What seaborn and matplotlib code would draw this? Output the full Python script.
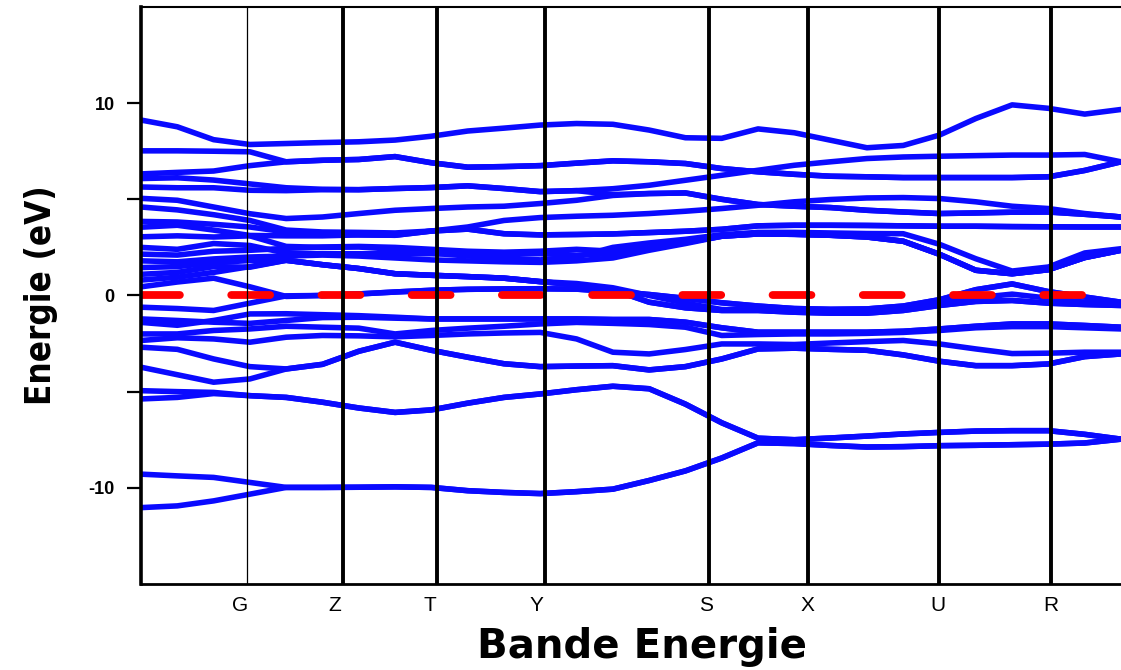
import matplotlib
matplotlib.use("Agg")
import matplotlib.pyplot as plt
import numpy as np
import pandas as pd
import seaborn as sns

# k-path sampling (28 points along the path)
k_points = [0, 1, 2, 3, 4, 5, 6, 7, 8, 9, 10, 11, 12, 13,
            14, 15, 16, 17, 18, 19, 20, 21, 22, 23, 24, 25, 26, 27]

# high symmetry points: label, position of the vertical line, position of the label
sym_labels = ["G", "Z", "T", "Y", "S", "X", "U", "R"]
sym_lines = [2.92, 5.56, 8.15, 11.13, 15.65, 18.37, 21.98, 25.07]
sym_label_pos = [2.73, 5.34, 7.96, 10.90, 15.56, 18.35, 21.96, 25.07]

# conduction side
band_a = [9.12, 8.77, 8.10, 7.85, 7.90, 7.95, 7.99, 8.08, 8.28, 8.55, 8.70, 8.86, 8.94, 8.90,
          8.60, 8.20, 8.17, 8.66, 8.46, 8.07, 7.68, 7.80, 8.34, 9.20, 9.91, 9.73, 9.43, 9.67]
band_b = [7.52, 7.52, 7.50, 7.47, 6.95, 7.03, 7.07, 7.22, 6.90, 6.67, 6.70, 6.75, 6.88, 7.00,
          6.95, 6.86, 6.60, 6.43, 6.30, 6.20, 6.17, 6.13, 6.13, 6.13, 6.13, 6.17, 6.50, 6.95]
band_c = [6.32, 6.40, 6.47, 6.75, 6.95, 7.03, 7.07, 7.22, 6.90, 6.67, 6.70, 6.75, 6.88, 7.00,
          6.95, 6.86, 6.60, 6.43, 6.30, 6.20, 6.17, 6.13, 6.13, 6.13, 6.13, 6.17, 6.50, 6.95]
band_d = [6.08, 6.12, 6.00, 5.80, 5.60, 5.52, 5.50, 5.56, 5.61, 5.70, 5.56, 5.40, 5.45, 5.55,
          5.73, 5.99, 6.25, 6.51, 6.77, 6.95, 7.12, 7.20, 7.24, 7.27, 7.30, 7.30, 7.33, 6.95]
band_e1 = [5.64, 5.60, 5.60, 5.47, 5.45, 5.50, 5.50, 5.56, 5.61, 5.70, 5.56, 5.40, 5.45, 5.25,
           5.30, 5.33, 5.00, 4.73, 4.64, 4.57, 4.43, 4.34, 4.26, 4.29, 4.33, 4.34, 4.22, 4.08]
band_e2 = [5.05, 4.95, 4.60, 4.25, 4.00, 4.08, 4.26, 4.43, 4.52, 4.60, 4.64, 4.78, 4.95, 5.20,
           5.30, 5.33, 5.00, 4.73, 4.64, 4.57, 4.43, 4.34, 4.26, 4.29, 4.33, 4.34, 4.22, 4.08]
band_e3 = [3.85, 3.82, 3.70, 3.56, 3.30, 3.20, 3.15, 3.13, 3.35, 3.56, 3.90, 4.05, 4.12, 4.17,
           4.26, 4.38, 4.52, 4.69, 4.87, 4.99, 5.07, 5.09, 5.04, 4.87, 4.64, 4.52, 4.26, 4.08]
band_e4 = [4.60, 4.45, 4.20, 3.90, 3.40, 3.30, 3.28, 3.25, 3.35, 3.45, 3.21, 3.15, 3.17, 3.20,
           3.27, 3.34, 3.44, 3.62, 3.65, 3.65, 3.64, 3.62, 3.60, 3.60, 3.58, 3.57, 3.56, 3.56]
band_h1 = [3.55, 3.65, 3.40, 3.12, 3.10, 3.10, 3.15, 3.13, 3.35, 3.45, 3.21, 3.15, 3.17, 3.20,
           3.27, 3.34, 3.44, 3.62, 3.65, 3.65, 3.64, 3.62, 3.60, 3.60, 3.58, 3.57, 3.56, 3.56]
band_f1 = [3.05, 3.10, 3.04, 3.10, 2.55, 2.50, 2.52, 2.40, 2.20, 2.05, 1.95, 1.85, 2.00, 2.50,
           2.73, 2.92, 3.16, 3.28, 3.28, 3.25, 3.22, 3.21, 2.66, 1.91, 1.27, 1.48, 2.21, 2.43]
band_f2 = [2.50, 2.40, 2.70, 2.60, 2.20, 2.17, 2.17, 2.17, 2.17, 2.17, 2.17, 2.17, 2.10, 2.17,
           2.47, 2.76, 3.08, 3.20, 3.18, 3.13, 3.04, 2.82, 2.14, 1.31, 1.13, 1.34, 1.97, 2.35]
band_g1 = [2.15, 2.10, 2.30, 2.35, 2.45, 2.52, 2.55, 2.50, 2.40, 2.30, 2.25, 2.30, 2.40, 2.30,
           2.47, 2.76, 3.08, 3.20, 3.18, 3.13, 3.04, 2.82, 2.14, 1.31, 1.13, 1.34, 1.97, 2.35]
band_g2 = [1.80, 1.75, 1.90, 2.00, 2.05, 2.10, 2.05, 1.95, 1.85, 1.80, 1.75, 1.72, 1.80, 1.95,
           2.35, 2.70, 3.08, 3.20, 3.18, 3.13, 3.04, 2.82, 2.14, 1.31, 1.13, 1.34, 1.97, 2.35]
band_g3 = [1.45, 1.50, 1.70, 1.82, 1.83, 1.60, 1.40, 1.13, 1.05, 0.98, 0.90, 0.72, 0.55, 0.30,
           -0.35, -0.64, -0.78, -0.78, -0.87, -0.92, -0.92, -0.78, -0.52, -0.31, -0.26, -0.40, -0.47, -0.52]
band_g4 = [1.10, 1.20, 1.50, 1.47, 1.83, 1.60, 1.40, 1.13, 1.05, 0.98, 0.90, 0.72, 0.55, 0.30,
           -0.35, -0.64, -0.78, -0.78, -0.87, -0.92, -0.92, -0.78, -0.52, -0.31, -0.26, -0.40, -0.47, -0.52]
band_v10 = [0.80, 0.95, 1.20, 1.50, 1.83, 1.60, 1.40, 1.13, 1.05, 0.98, 0.90, 0.72, 0.62, 0.40,
            0.00, -0.40, -0.73, -0.76, -0.80, -0.80, -0.78, -0.64, -0.35, -0.12, 0.07, -0.14, -0.35, -0.43]
band_g5 = [0.45, 0.70, 0.90, 0.45, -0.05, 0.00, 0.08, 0.18, 0.27, 0.32, 0.34, 0.35, 0.33, 0.20,
           0.05, -0.15, -0.38, -0.55, -0.68, -0.72, -0.70, -0.55, -0.22, 0.30, 0.60, 0.20, -0.08, -0.35]

# valence side
band_v9 = [-0.61, -0.68, -0.78, -0.40, -0.02, 0.00, 0.08, 0.18, 0.27, 0.32, 0.34, 0.35, 0.33, 0.20,
           0.05, -0.15, -0.38, -0.55, -0.68, -0.72, -0.70, -0.55, -0.22, 0.30, 0.60, 0.20, -0.08, -0.35]
band_v11 = [-1.40, -1.55, -1.30, -0.96, -0.95, -1.00, -1.05, -1.13, -1.22, -1.22, -1.22, -1.22, -1.22, -1.25,
            -1.25, -1.39, -1.68, -1.91, -1.91, -1.91, -1.91, -1.86, -1.74, -1.60, -1.48, -1.48, -1.56, -1.65]
band_v8 = [-1.22, -1.30, -1.39, -1.45, -1.30, -1.15, -1.13, -1.18, -1.22, -1.22, -1.22, -1.22, -1.22, -1.25,
           -1.25, -1.39, -1.68, -1.91, -1.91, -1.91, -1.91, -1.86, -1.74, -1.60, -1.48, -1.48, -1.56, -1.65]
band_v7 = [-2.00, -2.00, -1.82, -1.74, -1.60, -1.65, -1.70, -2.00, -1.82, -1.70, -1.60, -1.48, -1.40, -1.45,
           -1.51, -1.65, -2.08, -2.03, -2.00, -2.00, -1.97, -1.92, -1.82, -1.68, -1.62, -1.62, -1.68, -1.74]
band_v6 = [-2.34, -2.20, -2.26, -2.43, -2.17, -2.08, -2.10, -2.15, -2.08, -2.00, -1.95, -1.92, -2.26, -2.95,
           -3.04, -2.81, -2.52, -2.52, -2.55, -2.47, -2.40, -2.34, -2.52, -2.78, -3.02, -3.00, -2.95, -2.95]
band_v5 = [-2.69, -2.80, -3.30, -3.70, -3.82, -3.58, -2.90, -2.43, -2.85, -3.21, -3.55, -3.70, -3.67, -3.65,
           -3.87, -3.70, -3.30, -2.78, -2.74, -2.80, -2.85, -3.09, -3.42, -3.65, -3.65, -3.56, -3.18, -3.04]
band_v4 = [-3.73, -4.12, -4.51, -4.34, -3.82, -3.58, -2.90, -2.43, -2.85, -3.21, -3.55, -3.70, -3.67, -3.65,
           -3.87, -3.70, -3.30, -2.78, -2.74, -2.80, -2.85, -3.09, -3.42, -3.65, -3.65, -3.56, -3.18, -3.04]
band_v3 = [-4.95, -5.00, -5.04, -5.21, -5.30, -5.55, -5.85, -6.08, -5.95, -5.60, -5.30, -5.12, -4.90, -4.72,
           -4.85, -5.65, -6.62, -7.42, -7.50, -7.41, -7.31, -7.20, -7.12, -7.05, -7.03, -7.03, -7.22, -7.47]
band_v3b = [-5.38, -5.30, -5.10, -5.21, -5.30, -5.55, -5.85, -6.08, -5.95, -5.60, -5.30, -5.12, -4.90, -4.72,
            -4.85, -5.65, -6.62, -7.42, -7.50, -7.41, -7.31, -7.20, -7.12, -7.05, -7.03, -7.03, -7.22, -7.47]
band_v2 = [-9.29, -9.38, -9.46, -9.72, -9.98, -9.98, -9.97, -9.95, -9.98, -10.15, -10.24, -10.30, -10.20, -10.07,
           -9.62, -9.12, -8.45, -7.66, -7.70, -7.80, -7.88, -7.86, -7.81, -7.79, -7.76, -7.73, -7.67, -7.47]
band_v1 = [-11.03, -10.94, -10.68, -10.33, -9.98, -9.98, -9.97, -9.95, -9.98, -10.15, -10.24, -10.30, -10.20, -10.07,
           -9.62, -9.12, -8.45, -7.66, -7.70, -7.80, -7.88, -7.86, -7.81, -7.79, -7.76, -7.73, -7.67, -7.47]

all_bands = [band_a, band_b, band_c, band_d, band_e1, band_e2, band_e3, band_e4, band_h1,
             band_f1, band_f2, band_g1, band_g2, band_g3, band_g4, band_v10, band_g5,
             band_v9, band_v11, band_v8, band_v7, band_v6, band_v5, band_v4, band_v3,
             band_v3b, band_v2, band_v1]

rows = []
for band_index, energies in enumerate(all_bands):
    for k, e in zip(k_points, energies):
        rows.append({"k": k, "energy": e, "band": band_index})
df = pd.DataFrame(rows)

sns.set_style("ticks")
plt.rcParams["font.family"] = ["Liberation Sans", "DejaVu Sans"]
plt.rcParams["text.color"] = "black"
plt.rcParams["xtick.color"] = "black"
plt.rcParams["ytick.color"] = "black"
plt.rcParams["axes.labelcolor"] = "black"

fig = plt.figure(figsize=(11.21, 6.70), dpi=100)
ax = fig.add_axes([0.1258, 0.1284, 0.8742, 0.8612])

sns.lineplot(data=df, x="k", y="energy", units="band", estimator=None, sort=False,
             color="#0a0aff", linewidth=4.0, legend=False, ax=ax, zorder=2)

# Fermi level
ax.plot([0, 26.0], [0, 0], color="#ff0000", linewidth=5.6, dashes=(5.0, 6.6),
        dash_capstyle="round", zorder=3)

# high symmetry lines
for label, xpos in zip(sym_labels, sym_lines):
    lw = 0.9 if label == "G" else 2.8
    ax.axvline(xpos, color="black", linewidth=lw, zorder=4)

ax.set_xlim(0, 27)
ax.set_ylim(-15, 15)

ax.set_xticks(sym_label_pos)
ax.set_xticklabels(sym_labels, fontsize=15)
ax.tick_params(axis="x", length=0, pad=9)

ax.set_yticks([-10, -5, 0, 5, 10])
ax.set_yticklabels(["-10", "", "0", "", "10"], fontsize=13, fontweight="bold")
ax.tick_params(axis="y", length=10, width=1.6, pad=9, direction="out")

ax.spines["right"].set_visible(False)
ax.spines["left"].set_linewidth(2.6)
ax.spines["top"].set_linewidth(1.5)
ax.spines["bottom"].set_linewidth(2.0)
for side in ["left", "top", "bottom"]:
    ax.spines[side].set_color("black")
    ax.spines[side].set_zorder(5)

ax.set_xlabel("Bande Energie", fontsize=29, fontweight="heavy", family="DejaVu Sans")
ax.xaxis.label.set_va("baseline")
ax.xaxis.set_label_coords(0.511, -0.128)
ax.set_ylabel("Energie (eV)", fontsize=25, fontweight="heavy", family="DejaVu Sans",
              fontstretch="condensed")
ax.yaxis.set_label_coords(-0.085, 0.5)

fig.savefig("out.png", dpi=100)
plt.close(fig)
